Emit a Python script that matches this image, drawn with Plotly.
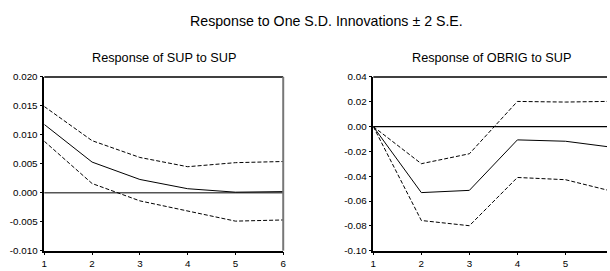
import plotly.graph_objects as go

periods = [1, 2, 3, 4, 5, 6]

sup_resp = [0.0118, 0.0053, 0.0023, 0.0007, 0.0001, 0.0002]
sup_upper = [0.0149, 0.0090, 0.0061, 0.0045, 0.0052, 0.0054]
sup_lower = [0.0089, 0.0016, -0.0014, -0.0031, -0.0049, -0.0047]

obrig_resp = [0.0, -0.0532, -0.0514, -0.0107, -0.0118, -0.0168]
obrig_upper = [0.0, -0.0299, -0.0219, 0.0203, 0.0198, 0.0204]
obrig_lower = [0.0, -0.0757, -0.0799, -0.0410, -0.0428, -0.0524]

left_yticks = [-0.010, -0.005, 0.000, 0.005, 0.010, 0.015, 0.020]
left_yticktext = ["-0.010", "-0.005", "0.000", "0.005", "0.010", "0.015", "0.020"]
right_yticks = [-0.10, -0.08, -0.06, -0.04, -0.02, 0.00, 0.02, 0.04]
right_yticktext = ["-0.10", "-0.08", "-0.06", "-0.04", "-0.02", "0.00", "0.02", "0.04"]

main_title = "Response to One S.D. Innovations ± 2 S.E."
left_title = "Response of SUP to SUP"
right_title = "Response of OBRIG to SUP"

FONT = "Liberation Sans, Arial, sans-serif"
W, H = 610, 271
y_top = 1 - 74 / H
y_bot = 1 - 255 / H
lx0, lx1 = 41.7 / W, 283 / W
rx0, rx1 = 374 / W, 1.0

fig = go.Figure()

def add_panel(xa, ya, resp, up, lo):
    fig.add_trace(go.Scatter(x=periods, y=up, mode="lines", xaxis=xa, yaxis=ya,
                             line=dict(color="black", width=1, dash="4px,2px"),
                             showlegend=False, hoverinfo="skip"))
    fig.add_trace(go.Scatter(x=periods, y=lo, mode="lines", xaxis=xa, yaxis=ya,
                             line=dict(color="black", width=1, dash="4px,2px"),
                             showlegend=False, hoverinfo="skip"))
    fig.add_trace(go.Scatter(x=periods, y=resp, mode="lines", xaxis=xa, yaxis=ya,
                             line=dict(color="black", width=1),
                             showlegend=False, hoverinfo="skip"))

add_panel("x", "y", sup_resp, sup_upper, sup_lower)
add_panel("x2", "y2", obrig_resp, obrig_upper, obrig_lower)

axis_common = dict(showgrid=False, zeroline=False, showline=True, linecolor="black",
                   linewidth=1.5, ticks="outside", ticklen=3, tickwidth=1,
                   tickcolor="black", tickfont=dict(family=FONT, size=9.8, color="black"))

fig.update_layout(
    width=W, height=H,
    margin=dict(l=0, r=0, t=0, b=0),
    paper_bgcolor="white", plot_bgcolor="white",
    showlegend=False,
    xaxis=dict(domain=[lx0, lx1], range=[1, 6], tickvals=periods, anchor="y", **axis_common),
    yaxis=dict(domain=[y_bot, y_top], range=[-0.010, 0.020], tickvals=left_yticks,
               ticktext=left_yticktext, anchor="x", **axis_common),
    xaxis2=dict(domain=[rx0, rx1], range=[1, 5.866], tickvals=periods[:5], anchor="y2", **axis_common),
    yaxis2=dict(domain=[y_bot, y_top], range=[-0.10, 0.04], tickvals=right_yticks,
                ticktext=right_yticktext, anchor="x2", **axis_common),
)

# borders and zero lines
fig.add_shape(type="line", xref="x domain", yref="y domain", x0=0, x1=1, y0=1, y1=1,
              line=dict(color="black", width=1.5))
fig.add_shape(type="line", xref="x domain", yref="y domain", x0=1, x1=1, y0=0, y1=1,
              line=dict(color="#777777", width=2))
fig.add_shape(type="line", xref="x domain", yref="y", x0=0, x1=1, y0=0, y1=0,
              line=dict(color="#555555", width=1.5), layer="below")
fig.add_shape(type="line", xref="x2 domain", yref="y2 domain", x0=0, x1=1, y0=1, y1=1,
              line=dict(color="black", width=1.5))
fig.add_shape(type="line", xref="x2 domain", yref="y2", x0=0, x1=1, y0=0, y1=0,
              line=dict(color="black", width=1.2), layer="below")

fig.add_annotation(text=main_title, x=327 / W, y=1 - 15.5 / H, xref="paper", yref="paper",
                   showarrow=False, xanchor="center", yanchor="middle",
                   font=dict(family=FONT, size=14.2, color="black"))
fig.add_annotation(text=left_title, x=(lx0 + lx1) / 2, y=1 - 54 / H, xref="paper", yref="paper",
                   showarrow=False, xanchor="center", yanchor="middle",
                   font=dict(family=FONT, size=12.7, color="black"))
fig.add_annotation(text=right_title, x=493 / W, y=1 - 54 / H, xref="paper", yref="paper",
                   showarrow=False, xanchor="center", yanchor="middle",
                   font=dict(family=FONT, size=12.7, color="black"))

fig.write_html("out.html", config={"displayModeBar": False},
               post_script="document.body.style.margin='0px';document.body.style.padding='0px';")
